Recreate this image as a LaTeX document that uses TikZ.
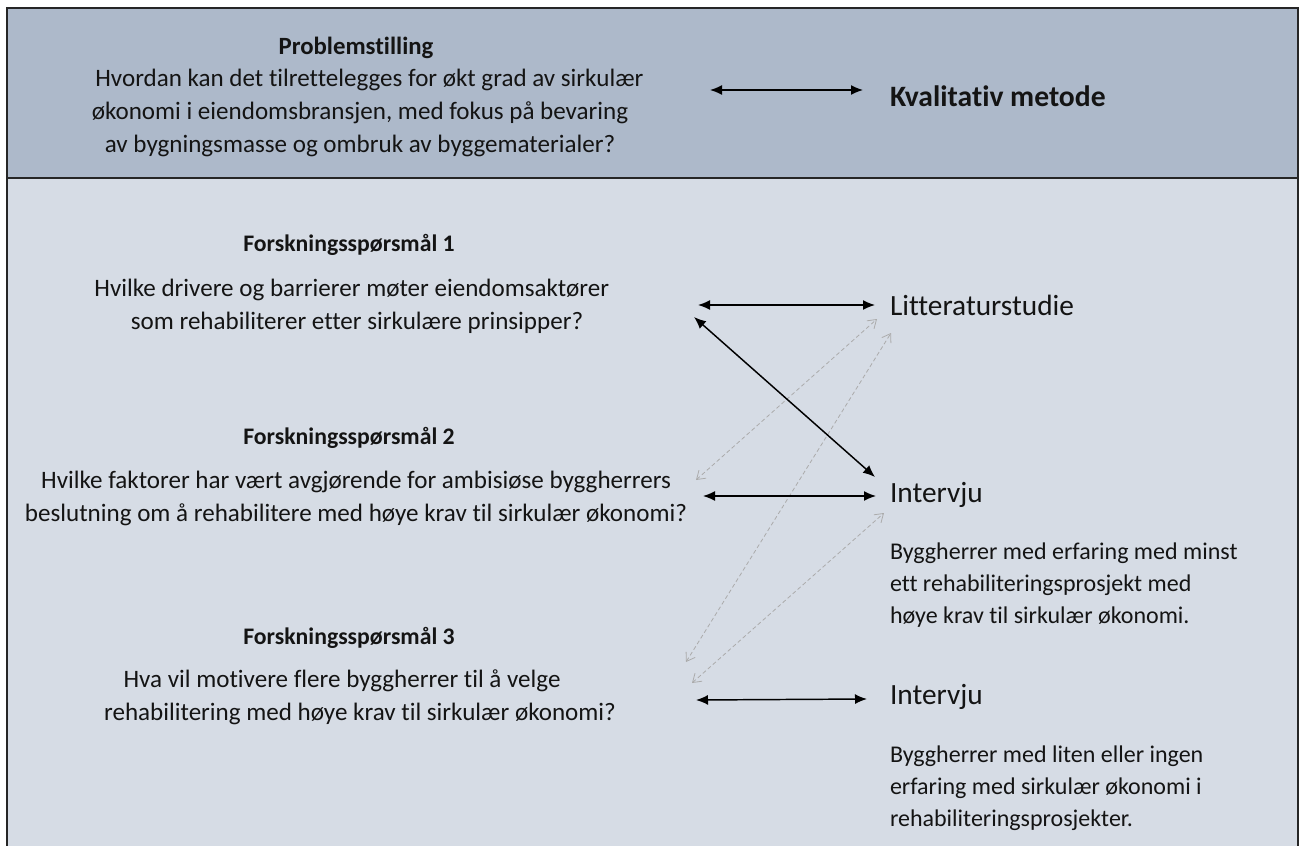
\documentclass[tikz,border=0pt]{standalone}
\usepackage{fontspec}
\setmainfont{Carlito}[RawFeature={-liga}]
\usetikzlibrary{arrows.meta}
\definecolor{topbg}{HTML}{ADB9CA}
\definecolor{lowbg}{HTML}{D6DCE5}
\definecolor{dashgray}{HTML}{ABABAB}
\definecolor{txt}{HTML}{141414}
\begin{document}
\begin{tikzpicture}[x=0.75pt,y=-0.75pt,
  every node/.style={inner sep=0pt,outer sep=0pt,text=txt},
  bodytxt/.style={font=\fontsize{18.8}{24.75}\selectfont,align=center},
  titletxt/.style={font=\fontsize{17.8}{24.75}\selectfont\bfseries},
  righttxt/.style={font=\fontsize{22}{26}\selectfont,anchor=west},
  desctxt/.style={font=\fontsize{18}{23.8}\selectfont,align=left,anchor=west},
  solidarrow/.style={line width=1.1pt,{Latex[length=9pt,width=7.5pt]}-{Latex[length=9pt,width=7.5pt]}},
  dasharrow/.style={line width=0.6pt,dashgray,dash pattern=on 3pt off 2pt,{Straight Barb[length=6pt,width=8pt]}-{Straight Barb[length=6pt,width=8pt]}}
]
\useasboundingbox (0,0) rectangle (1303,846);
\fill[white] (0,0) rectangle (1303,846);
\fill[topbg] (7,8) rectangle (1298,178);
\fill[lowbg] (7,178) rectangle (1298,846);
\draw[line width=1.1pt,black!85] (7,846) -- (7,8) -- (1298,8) -- (1298,846);
\draw[line width=1.5pt,black!85] (7,178) -- (1298,178);

% top band
\node[font=\fontsize{18.6}{24.75}\selectfont\bfseries] (probtitle) at (356,48) {Problemstilling};
\node[bodytxt] (prob) at (360,113) {\hspace*{14pt}Hvordan kan det tilrettelegges for økt grad av sirkulær\\ økonomi i eiendomsbransjen, med fokus på bevaring\\ av bygningsmasse og ombruk av byggematerialer?};
\node[font=\fontsize{22.2}{26}\selectfont\bfseries,anchor=west] (metode) at (890,96) {Kvalitativ metode};

% research questions
\node[titletxt] (f1) at (349,245) {Forskningsspørsmål 1};
\node[bodytxt] (q1) at (357,306.5) {Hvilke drivere og barrierer møter eiendomsaktører\hspace*{8pt}\\ som rehabiliterer etter sirkulære prinsipper?};
\node[titletxt] (f2) at (349,438) {Forskningsspørsmål 2};
\node[bodytxt] (q2) at (356,498) {Hvilke faktorer har vært avgjørende for ambisiøse byggherrers\\ beslutning om å rehabilitere med høye krav til sirkulær økonomi?};
\node[titletxt] (f3) at (349,638) {Forskningsspørsmål 3};
\node[bodytxt] (q3) at (360,697.5) {Hva vil motivere flere byggherrer til å velge\hspace*{27pt}\\ rehabilitering med høye krav til sirkulær økonomi?};

% methods
\node[righttxt] (lit) at (890,305) {Litteraturstudie};
\node[righttxt] (int1) at (890,495) {Intervju};
\node[desctxt] (d1) at (890,585) {Byggherrer med erfaring med minst\\ ett rehabiliteringsprosjekt med\\ høye krav til sirkulær økonomi.};
\node[righttxt] (int2) at (890,697) {Intervju};
\node[desctxt] (d2) at (890,788) {Byggherrer med liten eller ingen\\ erfaring med sirkulær økonomi i\\ rehabiliteringsprosjekter.};

% arrow end points
\coordinate (pR) at (710,90);
\coordinate (mL) at (863,90);
\coordinate (q1R) at (698,305);
\coordinate (litL) at (875,305);
\coordinate (q1Rd) at (694,317);
\coordinate (int1Ld) at (875,477);
\coordinate (q2R) at (703,496);
\coordinate (int1L) at (876,496);
\coordinate (q3R) at (696,700);
\coordinate (int2L) at (867,699);
\coordinate (q2Rg) at (696,480);
\coordinate (litLg) at (877,319);
\coordinate (litLg2) at (891,333);
\coordinate (q3Rg) at (686,662);
\coordinate (int1Lg) at (884,513);
\coordinate (q3Rg2) at (692,683);

% dashed grey links
\draw[dasharrow] (q2Rg) -- (litLg);
\draw[dasharrow] (q3Rg) -- (litLg2);
\draw[dasharrow] (q3Rg2) -- (int1Lg);

% solid links
\draw[solidarrow] (pR) -- (mL);
\draw[solidarrow] (q1R) -- (litL);
\draw[solidarrow] (q1Rd) -- (int1Ld);
\draw[solidarrow] (q2R) -- (int1L);
\draw[solidarrow] (q3R) -- (int2L);
\end{tikzpicture}
\end{document}
